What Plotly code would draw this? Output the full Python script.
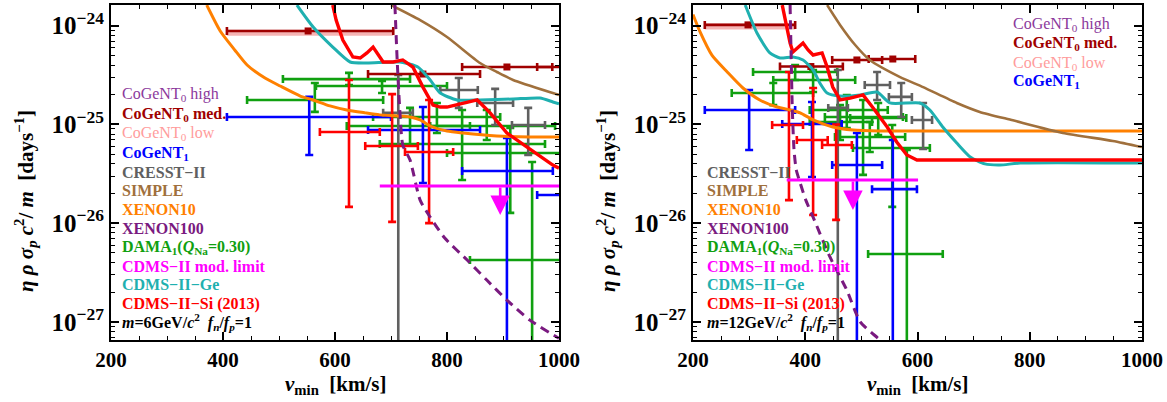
import math
import plotly.graph_objects as go

# ================= Panel A : m = 6 GeV/c^2 =================
A_xe10_v = [371, 395, 421, 443, 475, 502, 538, 561, 591, 621, 654, 680, 734, 752, 770, 800, 829, 889, 948, 1000]
A_xe10_y = [1.62e-24, 8.85e-25, 5.68e-25, 4.0e-25, 2.95e-25, 2.45e-25, 1.94e-25, 1.77e-25, 1.54e-25, 1.40e-25,
            1.31e-25, 1.25e-25, 1.19e-25, 1.11e-25, 9.64e-26, 8.57e-26, 8.18e-26, 7.64e-26, 7.46e-26, 7.46e-26]
A_simple_v = [700, 752, 800, 859, 889, 918, 989, 1000]
A_simple_y = [1.62e-24, 1.14e-24, 7.69e-25, 4.19e-25, 3.40e-25, 2.82e-25, 2.08e-25, 1.99e-25]
A_ge_v = [532, 561, 596, 627, 657, 716, 748, 770, 788, 818, 859, 918, 966, 989, 1000]
A_ge_y = [1.62e-24, 9.7e-25, 6.08e-25, 4.29e-25, 4.19e-25, 4.29e-25, 3.82e-25, 2.82e-25, 2.08e-25, 1.77e-25,
          1.77e-25, 1.81e-25, 1.85e-25, 1.69e-25, 1.62e-25]
A_si_v = [596, 602, 614, 632, 645, 657, 668, 677, 686, 704, 721, 739, 757, 775, 788, 800, 854, 877, 907, 943, 989, 1000]
A_si_y = [1.62e-24, 1.14e-24, 7.16e-25, 4.82e-25, 4.71e-25, 5.3e-25, 6.08e-25, 5.05e-25, 4.29e-25, 4.29e-25, 4.5e-25,
          3.82e-25, 2.39e-25, 1.57e-25, 1.5e-25, 1.5e-25, 1.77e-25, 1.31e-25, 8.18e-26, 5.9e-26, 3.88e-26, 3.61e-26]
A_xe100_v = [707, 711, 716, 721, 734, 752, 770, 796, 836, 871, 907, 948, 996, 1000]
A_xe100_y = [1.62e-24, 4.5e-25, 1.31e-25, 6.19e-26, 4.36e-26, 1.71e-26, 1.15e-26, 7.06e-27, 4.23e-27, 2.65e-27,
             1.66e-27, 1.04e-27, 7.02e-28, 6.8e-28]
A_mod_v = [680, 1000]
A_mod_y = [2.38e-26, 2.38e-26]
A_mod_arrow_v = 895
A_mod_arrow_tip = 1.21e-26

# CoGeNT0 med. (dark red) bins
A_c0m_v = [552, 757, 907, 1040]
A_c0m_vlo = [407, 659, 827, 961]
A_c0m_vhi = [704, 859, 988, 1120]
A_c0m_y = [8.85e-25, 3.24e-25, 3.82e-25, 3.82e-25]
# CoGeNT0 low (pink band)
A_c0l_v = [407, 704]
A_c0l_y = [8.5e-25, 8.5e-25]
# CoGeNT1 (blue)
A_c1_v = [554, 757, 907, 1040]
A_c1_vlo = [407, 659, 827, 961]
A_c1_vhi = [700, 859, 989, 1120]
A_c1_y = [1.19e-25, 8.79e-26, 3.37e-26, 1.93e-26]
A_c1_ylo = [4.9e-26, 2.55e-26, 1e-29, 1e-29]
A_c1_yhi = [1.9e-25, 1.5e-25, 7.28e-26, 3.5e-26]
# CRESST-II (gray)
A_cr_v = [713, 821, 886, 945]
A_cr_vlo = [686, 788, 854, 916]
A_cr_vhi = [739, 855, 918, 975]
A_cr_y = [1.31e-25, 2.23e-25, 1.65e-25, 9.86e-26]
A_cr_ylo = [1e-29, 1.47e-25, 9.86e-26, 4.9e-26]
A_cr_yhi = [3.17e-25, 2.95e-25, 2.29e-25, 1.47e-25]
# CDMS-II-Si (red bins)
A_sib_v = [625, 702, 768]
A_sib_vlo = [573, 654, 725]
A_sib_vhi = [680, 748, 811]
A_sib_y = [8.38e-26, 6.05e-26, 5.26e-26]
A_sib_ylo = [1.46e-26, 1.03e-26, 1.0e-26]
A_sib_yhi = [2.82e-25, 2.03e-25, 1.77e-25]
# DAMA (green)
A_da_v = [625, 684, 564, 734, 782, 827, 871, 913, 952]
A_da_vlo = [507, 566, 443, 621, 668, 680, 770, 800, 841]
A_da_vhi = [734, 800, 686, 841, 895, 975, 993, 1029, 1063]
A_da_y = [2.88e-25, 2.45e-25, 1.77e-25, 9.64e-26, 1.19e-25, 6.34e-26, 9.64e-26, 5.13e-26, 4.23e-27]
A_da_ylo = [2.5e-25, 2.08e-25, 1.34e-25, 6.19e-26, 8.18e-26, 2.74e-26, 6.95e-26, 1.27e-26, 1e-29]
A_da_yhi = [3.33e-25, 2.75e-25, 2.63e-25, 1.47e-25, 1.65e-25, 1.4e-25, 1.4e-25, 9.2e-26, 4.16e-26]

# ================= Panel B : m = 12 GeV/c^2 =================
B_xe10_v = [200, 212, 234, 261, 289, 319, 350, 373, 391, 414, 449, 485, 533, 1000]
B_xe10_y = [1.3e-24, 8.8e-25, 5.0e-25, 3.4e-25, 2.34e-25, 1.77e-25, 1.5e-25, 1.4e-25, 1.31e-25, 1.11e-25,
            9.42e-26, 8.79e-26, 8.6e-26, 8.6e-26]
B_simple_v = [439, 462, 489, 515, 569, 610, 670, 711, 770, 859, 948, 1000]
B_simple_y = [1.62e-24, 1.02e-24, 6.38e-25, 4.5e-25, 3.02e-25, 2.39e-25, 1.65e-25, 1.34e-25, 1.1e-25, 8.2e-26,
              6.8e-26, 5.9e-26]
B_ge_v = [293, 314, 337, 355, 378, 396, 414, 426, 439, 462, 498, 528, 551, 604, 622, 645, 670, 694, 720, 747, 783, 1000]
B_ge_y = [1.62e-24, 8.43e-25, 5.3e-25, 4.71e-25, 4.82e-25, 4.5e-25, 3.56e-25, 2.63e-25, 2.08e-25, 1.94e-25, 1.99e-25,
          2.13e-25, 1.65e-25, 1.65e-25, 1.4e-25, 9.42e-26, 6.49e-26, 4.68e-26, 3.98e-26, 3.88e-26, 4.06e-26, 4.06e-26]
B_si_v = [359, 367, 373, 378, 387, 396, 405, 414, 430, 439, 449, 462, 480, 503, 521, 546, 563, 581, 599, 1000]
B_si_y = [1.62e-24, 9.7e-25, 6.68e-25, 5.42e-25, 6.08e-25, 6.68e-25, 5.68e-25, 5.05e-25, 5.3e-25, 3.82e-25, 2.39e-25,
          1.77e-25, 1.85e-25, 1.99e-25, 1.47e-25, 9.42e-26, 6.64e-26, 4.9e-26, 4.36e-26, 4.36e-26]
B_xe100_v = [373, 375, 377, 380, 384, 391, 401, 414, 444, 474, 498, 533, 545]
B_xe100_y = [1.62e-24, 4.5e-25, 1.4e-25, 5.51e-26, 3.45e-26, 2.55e-26, 1.71e-26, 1.15e-26, 4.54e-27, 2.1e-27,
             1.0e-27, 6.55e-28, 5.5e-28]
B_mod_v = [367, 601]
B_mod_y = [2.74e-26, 2.74e-26]
B_mod_arrow_v = 485
B_mod_arrow_tip = 1.36e-26

B_c0m_v = [298, 410, 492, 556]
B_c0m_vlo = [221, 355, 448, 513]
B_c0m_vhi = [382, 467, 537, 596]
B_c0m_y = [1.02e-24, 3.86e-25, 4.5e-25, 4.6e-25]
B_c0l_v = [221, 382]
B_c0l_y = [9.8e-25, 9.8e-25]
B_c1_v = [300, 412, 492, 556]
B_c1_vlo = [221, 359, 448, 519]
B_c1_vhi = [382, 465, 537, 599]
B_c1_y = [1.4e-25, 1.01e-25, 3.88e-26, 2.21e-26]
B_c1_ylo = [5.51e-26, 2.93e-26, 1e-29, 1e-29]
B_c1_yhi = [2.23e-25, 1.69e-25, 8.18e-26, 6.95e-26]
B_cr_v = [458, 528, 571, 610]
B_cr_vlo = [441, 506, 549, 590]
B_cr_vhi = [476, 551, 590, 626]
B_cr_y = [1.47e-25, 2.51e-25, 1.9e-25, 1.11e-25]
B_cr_ylo = [1e-29, 1.77e-25, 1.19e-25, 5.64e-26]
B_cr_yhi = [3.56e-25, 3.4e-25, 2.63e-25, 1.65e-25]
B_sib_v = [371, 414, 455]
B_sib_vlo = [341, 385, 430]
B_sib_vhi = [396, 440, 483]
B_sib_y = [9.86e-26, 6.95e-26, 6.19e-26]
B_sib_ylo = [1.71e-26, 1.21e-26, 1.08e-26]
B_sib_yhi = [3.4e-25, 2.34e-25, 1.0e-25]
B_da_v = [382, 414, 343, 474, 503, 462, 530, 555, 581, 515]
B_da_vlo = [307, 343, 269, 408, 435, 408, 480, 485, 512, 453]
B_da_vhi = [457, 489, 414, 547, 574, 519, 580, 622, 645, 578]
B_da_y = [3.4e-25, 2.82e-25, 2.08e-25, 1.4e-25, 1.19e-25, 1.06e-25, 1.16e-25, 5.77e-26, 4.87e-27, 7.46e-26]
B_da_ylo = [2.82e-25, 2.13e-25, 1.57e-25, 9.2e-26, 3.08e-26, 6.95e-26, 7.82e-26, 1.46e-26, 1e-29, 5.26e-26]
B_da_yhi = [4.0e-25, 3.56e-25, 2.63e-25, 1.99e-25, 1.77e-25, 1.57e-25, 1.65e-25, 9.86e-26, 5.51e-26, 1.06e-25]

# tick labels
x_ticks = [200, 400, 600, 800, 1000]
x_minor = [250, 300, 350, 450, 500, 550, 650, 700, 750, 850, 900, 950]
y_ticks = [1e-27, 1e-26, 1e-25, 1e-24]
y_ticktext = ["10<sup>\u221227</sup>", "10<sup>\u221226</sup>", "10<sup>\u221225</sup>", "10<sup>\u221224</sup>"]
y_minor = [k * 10.0 ** e for e in (-28, -27, -26, -25, -24) for k in range(2, 10)]

# colours
C_XE10 = "#ff8000"
C_SIMPLE = "#a0703c"
C_GE = "#1fb0b0"
C_SI = "#ff0000"
C_XE100 = "#7a1a80"
C_MOD = "#ff00ff"
C_C0M = "#a00000"
C_C0L = "#ff9c9c"
C_C0L_BAND = "#f6b4b4"
C_C0H = "#8c3a9c"
C_C1 = "#0000ff"
C_CR = "#606060"
C_DA = "#10a010"

FONT = "Liberation Serif"
fig = go.Figure()


def curve(v, y, color, width, xa, ya, dash=None, shape="spline"):
    fig.add_trace(go.Scatter(x=v, y=y, mode="lines", xaxis=xa, yaxis=ya, hoverinfo="skip", showlegend=False,
                             line=dict(color=color, width=width, dash=dash, shape=shape, smoothing=0.6)))


def bars(v, vlo, vhi, y, ylo, yhi, color, xa, ya, sym=None):
    ex = dict(type="data", symmetric=False, array=[h - c for h, c in zip(vhi, v)],
              arrayminus=[c - l for c, l in zip(v, vlo)], color=color, thickness=2.6, width=4)
    if ylo is None:
        ey = dict(visible=False)
    else:
        ey = dict(type="data", symmetric=False, array=[h - c for h, c in zip(yhi, y)],
                  arrayminus=[c - l for c, l in zip(y, ylo)], color=color, thickness=2.6, width=4)
    mk = dict(size=7, color=color, symbol="square") if sym else dict(size=1, color=color)
    fig.add_trace(go.Scatter(x=v, y=y, mode="markers", xaxis=xa, yaxis=ya, hoverinfo="skip", showlegend=False,
                             marker=mk, error_x=ex, error_y=ey))


def panel(P, xa, ya):
    fig.add_trace(go.Scatter(x=P["c0l_v"], y=P["c0l_y"], mode="lines", xaxis=xa, yaxis=ya, hoverinfo="skip",
                             showlegend=False, line=dict(color=C_C0L_BAND, width=6)))
    bars(P["da_v"], P["da_vlo"], P["da_vhi"], P["da_y"], P["da_ylo"], P["da_yhi"], C_DA, xa, ya)
    bars(P["c1_v"], P["c1_vlo"], P["c1_vhi"], P["c1_y"], P["c1_ylo"], P["c1_yhi"], C_C1, xa, ya)
    bars(P["cr_v"], P["cr_vlo"], P["cr_vhi"], P["cr_y"], P["cr_ylo"], P["cr_yhi"], C_CR, xa, ya)
    bars(P["sib_v"], P["sib_vlo"], P["sib_vhi"], P["sib_y"], P["sib_ylo"], P["sib_yhi"], C_SI, xa, ya)
    bars(P["c0m_v"], P["c0m_vlo"], P["c0m_vhi"], P["c0m_y"], None, None, C_C0M, xa, ya, sym=True)
    curve(P["xe10_v"], P["xe10_y"], C_XE10, 3, xa, ya)
    curve(P["simple_v"], P["simple_y"], C_SIMPLE, 2.6, xa, ya)
    curve(P["ge_v"], P["ge_y"], C_GE, 3, xa, ya)
    curve(P["si_v"], P["si_y"], C_SI, 3.4, xa, ya, shape="linear")
    curve(P["xe100_v"], P["xe100_y"], C_XE100, 3, xa, ya, dash="9px,6px")
    curve(P["mod_v"], P["mod_y"], C_MOD, 3, xa, ya, shape="linear")


PA = dict(xe10_v=A_xe10_v, xe10_y=A_xe10_y, simple_v=A_simple_v, simple_y=A_simple_y, ge_v=A_ge_v, ge_y=A_ge_y,
          si_v=A_si_v, si_y=A_si_y, xe100_v=A_xe100_v, xe100_y=A_xe100_y, mod_v=A_mod_v, mod_y=A_mod_y,
          c0m_v=A_c0m_v, c0m_vlo=A_c0m_vlo, c0m_vhi=A_c0m_vhi, c0m_y=A_c0m_y, c0l_v=A_c0l_v, c0l_y=A_c0l_y,
          c1_v=A_c1_v, c1_vlo=A_c1_vlo, c1_vhi=A_c1_vhi, c1_y=A_c1_y, c1_ylo=A_c1_ylo, c1_yhi=A_c1_yhi,
          cr_v=A_cr_v, cr_vlo=A_cr_vlo, cr_vhi=A_cr_vhi, cr_y=A_cr_y, cr_ylo=A_cr_ylo, cr_yhi=A_cr_yhi,
          sib_v=A_sib_v, sib_vlo=A_sib_vlo, sib_vhi=A_sib_vhi, sib_y=A_sib_y, sib_ylo=A_sib_ylo, sib_yhi=A_sib_yhi,
          da_v=A_da_v, da_vlo=A_da_vlo, da_vhi=A_da_vhi, da_y=A_da_y, da_ylo=A_da_ylo, da_yhi=A_da_yhi)
PB = dict(xe10_v=B_xe10_v, xe10_y=B_xe10_y, simple_v=B_simple_v, simple_y=B_simple_y, ge_v=B_ge_v, ge_y=B_ge_y,
          si_v=B_si_v, si_y=B_si_y, xe100_v=B_xe100_v, xe100_y=B_xe100_y, mod_v=B_mod_v, mod_y=B_mod_y,
          c0m_v=B_c0m_v, c0m_vlo=B_c0m_vlo, c0m_vhi=B_c0m_vhi, c0m_y=B_c0m_y, c0l_v=B_c0l_v, c0l_y=B_c0l_y,
          c1_v=B_c1_v, c1_vlo=B_c1_vlo, c1_vhi=B_c1_vhi, c1_y=B_c1_y, c1_ylo=B_c1_ylo, c1_yhi=B_c1_yhi,
          cr_v=B_cr_v, cr_vlo=B_cr_vlo, cr_vhi=B_cr_vhi, cr_y=B_cr_y, cr_ylo=B_cr_ylo, cr_yhi=B_cr_yhi,
          sib_v=B_sib_v, sib_vlo=B_sib_vlo, sib_vhi=B_sib_vhi, sib_y=B_sib_y, sib_ylo=B_sib_ylo, sib_yhi=B_sib_yhi,
          da_v=B_da_v, da_vlo=B_da_vlo, da_vhi=B_da_vhi, da_y=B_da_y, da_ylo=B_da_ylo, da_yhi=B_da_yhi)
panel(PA, "x", "y")
panel(PB, "x2", "y2")

W, H = 1167, 402
annotations = []
for xr, yr, av, ay0, tip in (("x", "y", A_mod_arrow_v, A_mod_y[0], A_mod_arrow_tip),
                             ("x2", "y2", B_mod_arrow_v, B_mod_y[0], B_mod_arrow_tip)):
    annotations.append(dict(x=av, y=math.log10(tip), ax=av, ay=math.log10(ay0), xref=xr, yref=yr, axref=xr,
                            ayref=yr, showarrow=True, arrowhead=2, arrowsize=1.5, arrowwidth=2.6,
                            arrowcolor=C_MOD, text=""))


def txt(px, py, s, color, bold=True, size=16, anchor="left", angle=0):
    annotations.append(dict(x=px / W, y=1 - py / H, xref="paper", yref="paper", showarrow=False,
                            text=("<b>%s</b>" % s) if bold else s, xanchor=anchor, yanchor="middle",
                            textangle=angle, font=dict(family=FONT, size=size, color=color)))


legend_main = [("CRESST\u2212II", C_CR), ("SIMPLE", C_SIMPLE), ("XENON10", C_XE10), ("XENON100", C_XE100),
               ("DAMA<sub>1</sub>(<i>Q</i><sub>Na</sub>=0.30)", C_DA), ("CDMS\u2212II mod. limit", C_MOD),
               ("CDMS\u2212II\u2212Ge", C_GE), ("CDMS\u2212II\u2212Si (2013)", C_SI)]
legend_cog = [("CoGeNT<sub>0</sub> high", C_C0H, False), ("CoGeNT<sub>0</sub> med.", C_C0M, True),
              ("CoGeNT<sub>0</sub> low", C_C0L, False), ("CoGeNT<sub>1</sub>", C_C1, True)]

for i, (s, c, b) in enumerate(legend_cog):
    txt(120, 95 + 19.5 * i, s, c, bold=b)
    txt(1011, 25 + 19 * i, s, c, bold=b)
for i, (s, c) in enumerate(legend_main):
    txt(120, 172 + 18.8 * i, s, c)
    txt(705, 172 + 18.8 * i, s, c)
txt(120, 322, "<i>m</i>=6GeV/<i>c</i><sup>2</sup>  <i>f<sub>n</sub></i>/<i>f<sub>p</sub></i>=1", "black")
txt(705, 322, "<i>m</i>=12GeV/<i>c</i><sup>2</sup>  <i>f<sub>n</sub></i>/<i>f<sub>p</sub></i>=1", "black")

xt = "<i>v</i><sub>min</sub>  [km/s]"
yt = "<i>\u03b7 \u03c1 \u03c3<sub>p</sub> c</i><sup>2</sup>/ <i>m</i>  [days<sup>\u22121</sup>]"
txt(335, 385, xt, "black", size=21, anchor="center")
txt(917, 385, xt, "black", size=21, anchor="center")
txt(25, 201, yt, "black", size=21, anchor="center", angle=-90)
txt(607, 201, yt, "black", size=21, anchor="center", angle=-90)

ydom = [1 - 340 / H, 1 - 5 / H]
common_x = dict(range=[200, 1000], tickmode="array", tickvals=x_ticks, ticktext=["<b>%d</b>" % t for t in x_ticks],
                ticks="inside", ticklen=8, tickwidth=1.5, tickcolor="black", showline=True, linecolor="black",
                linewidth=2, mirror="allticks", showgrid=False, zeroline=False, automargin=False,
                tickfont=dict(family=FONT, size=21, color="black"),
                minor=dict(tickmode="array", tickvals=x_minor, ticks="inside", ticklen=4, tickwidth=1.2,
                           tickcolor="black", showgrid=False))
common_y = dict(type="log", range=[-27.184, -23.79], tickmode="array", tickvals=y_ticks,
                ticktext=["<b>%s</b>" % t for t in y_ticktext], ticks="inside", ticklen=8, tickwidth=1.5,
                tickcolor="black", showline=True, linecolor="black", linewidth=2, mirror="allticks",
                showgrid=False, zeroline=False, automargin=False, tickfont=dict(family=FONT, size=25, color="black"),
                minor=dict(tickmode="array", tickvals=y_minor, ticks="inside", ticklen=4, tickwidth=1.2,
                           tickcolor="black", showgrid=False))

fig.update_layout(
    width=W, height=H, margin=dict(l=0, r=0, t=0, b=0, pad=0, autoexpand=False),
    paper_bgcolor="white", plot_bgcolor="white",
    font=dict(family=FONT), showlegend=False, annotations=annotations,
    xaxis=dict(domain=[111 / W, 559 / W], anchor="y", **common_x),
    yaxis=dict(domain=ydom, anchor="x", **common_y),
    xaxis2=dict(domain=[693 / W, 1142 / W], anchor="y2", **common_x),
    yaxis2=dict(domain=ydom, anchor="x2", **common_y),
)

fig.write_html("out.html", config={"displayModeBar": False},
               post_script="document.body.style.margin='0';")
